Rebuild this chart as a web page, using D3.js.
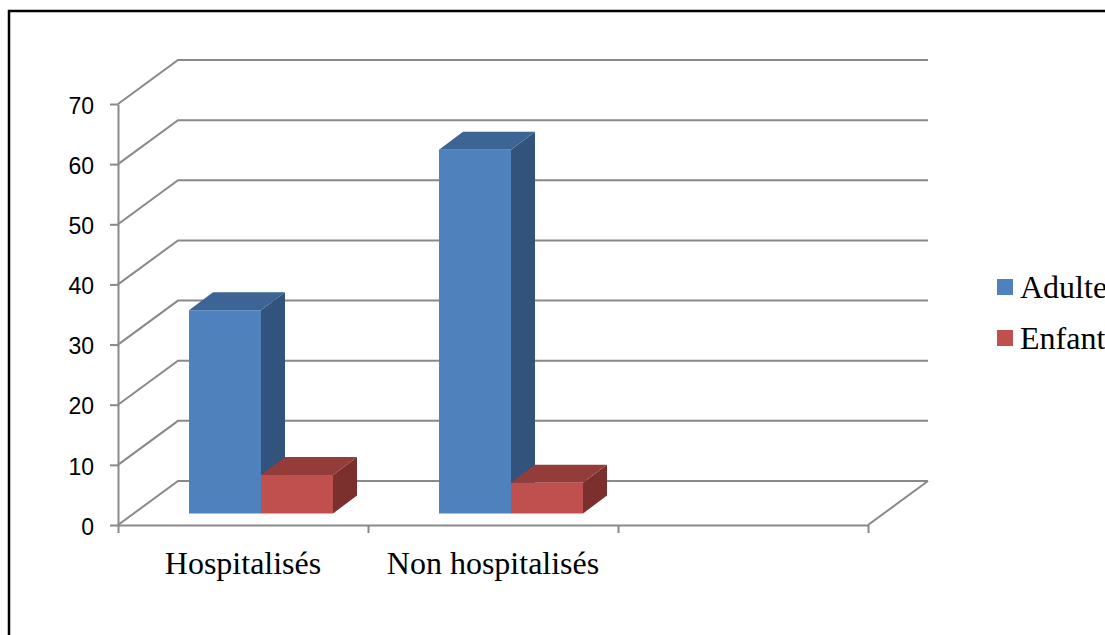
<!DOCTYPE html>
<html>
<head>
<meta charset="utf-8">
<script src="https://cdn.jsdelivr.net/npm/d3@7"></script>
<style>
	body { margin: 0; background: #fff; }
	svg { display: block; }
</style>
</head>
<body>
<svg width="1105" height="635"></svg>
<script>
// Data
const categories = ["Hospitalisés", "Non hospitalisés", ""];
const seriesNames = ["Adulte", "Enfant"];
const adulte = [33.8, 60.5, null];
const enfant = [6.4, 5.1, null];
const yTicks = [0, 10, 20, 30, 40, 50, 60, 70];

const colors = {
	Adulte: { front: "#4F81BD", top: "#3C6595", side: "#31537C" },
	Enfant: { front: "#C0504D", top: "#943C3A", side: "#7B302E" },
};

const svg = d3.select("svg");

// chart border (cut off at right/bottom like the original)
svg
	.append("rect")
	.attr("x", 9)
	.attr("y", 11)
	.attr("width", 1300)
	.attr("height", 800)
	.attr("fill", "none")
	.attr("stroke", "#000")
	.attr("stroke-width", 2.5);

// 3D projection constants
const wallDx = 60,
	wallDy = -44; // depth of the floor / back wall
const barOx = 18,
	barOy = -11.5; // front face of the bars
const barDx = 24,
	barDy = -18; // depth of each bar
const barW = 72;

// Scales
const x = d3.scaleBand().domain(categories).range([118, 868]).padding(0);
const xEdge = d3.scaleLinear().domain([0, 3]).range([118, 868]);
const y = d3.scaleLinear().domain([0, 70]).range([525, 104]);
const xSeries = d3
	.scaleBand()
	.domain(seriesNames)
	.range([0, barW * 2]);

const gridColor = "#898989";

// Back wall gridlines + side wall diagonals
const grid = svg.append("g");
yTicks.forEach((v) => {
	const yf = y(v);
	grid
		.append("path")
		.attr(
			"d",
			`M${x.range()[0]},${yf} L${x.range()[0] + wallDx},${yf + wallDy} L${
				x.range()[1] + wallDx
			},${yf + wallDy}`
		)
		.attr("fill", "none")
		.attr("stroke", gridColor)
		.attr("stroke-width", 2);
});

// Floor right edge
grid
	.append("path")
	.attr(
		"d",
		`M${x.range()[1]},${y(0)} L${x.range()[1] + wallDx},${y(0) + wallDy}`
	)
	.attr("fill", "none")
	.attr("stroke", gridColor)
	.attr("stroke-width", 2);

// Y axis
const yAxis = svg
	.append("g")
	.attr("transform", `translate(118,0)`)
	.call(d3.axisLeft(y).tickValues(yTicks).tickSize(8).tickSizeOuter(0).tickPadding(16));
yAxis.select(".domain").attr("stroke", gridColor).attr("stroke-width", 2);
yAxis.selectAll(".tick line").attr("stroke", gridColor).attr("stroke-width", 2);
yAxis
	.selectAll(".tick text")
	.attr("fill", "#000")
	.attr("dy", "0.4em")
	.style("font-family", "'Liberation Sans', Arial, sans-serif")
	.style("font-size", "23px");

// X axis (front floor edge)
const xAxis = svg
	.append("g")
	.attr("transform", `translate(0,${y(0)})`)
	.call(
		d3
			.axisBottom(xEdge)
			.tickValues([0, 1, 2, 3])
			.tickFormat("")
			.tickSize(8)
			.tickSizeOuter(0)
	);
xAxis.select(".domain").attr("stroke", gridColor).attr("stroke-width", 2);
xAxis.selectAll(".tick line").attr("stroke", gridColor).attr("stroke-width", 2);

svg
	.append("g")
	.selectAll("text")
	.data(categories)
	.join("text")
	.attr("x", (d) => x(d) + x.bandwidth() / 2)
	.attr("y", 574)
	.attr("text-anchor", "middle")
	.style("font-family", "'Liberation Serif', 'Times New Roman', serif")
	.style("font-size", "32px")
	.attr("fill", "#000")
	.text((d) => d);

// Bars
const seriesData = { Adulte: adulte, Enfant: enfant };
const bars = svg.append("g");
categories.forEach((c, i) => {
	const groupLeft = x(c) + (x.bandwidth() - barW * 2) / 2 + barOx;
	seriesNames.forEach((s) => {
		const v = seriesData[s][i];
		if (v == null) return;
		const x0 = groupLeft + xSeries(s),
			x1 = x0 + barW;
		const yb = y(0) + barOy,
			yt = y(v) + barOy;
		const col = colors[s];
		// side face
		bars
			.append("path")
			.attr(
				"d",
				`M${x1},${yt} L${x1 + barDx},${yt + barDy} L${x1 + barDx},${yb + barDy} L${x1},${yb} Z`
			)
			.attr("fill", col.side);
		// top face
		bars
			.append("path")
			.attr(
				"d",
				`M${x0},${yt} L${x0 + barDx},${yt + barDy} L${x1 + barDx},${yt + barDy} L${x1},${yt} Z`
			)
			.attr("fill", col.top);
		// front face
		bars
			.append("rect")
			.attr("x", x0)
			.attr("y", yt)
			.attr("width", barW)
			.attr("height", yb - yt)
			.attr("fill", col.front);
	});
});

// Legend
const legend = svg
	.append("g")
	.selectAll("g")
	.data(seriesNames)
	.join("g")
	.attr("transform", (d, i) => `translate(997,${279 + i * 51})`);
legend
	.append("rect")
	.attr("width", 16)
	.attr("height", 16)
	.attr("fill", (d) => colors[d].front);
legend
	.append("text")
	.attr("x", 23)
	.attr("y", 19)
	.style("font-family", "'Liberation Serif', 'Times New Roman', serif")
	.style("font-size", "32px")
	.attr("fill", "#000")
	.text((d) => d);
</script>
</body>
</html>
